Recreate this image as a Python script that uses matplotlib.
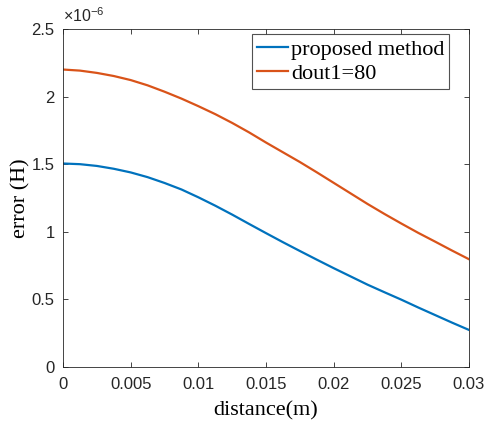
import matplotlib
matplotlib.use("Agg")
import matplotlib.pyplot as plt
from matplotlib.ticker import FuncFormatter

# distance (m) and error (H)
distance = [0.0, 0.00125, 0.0025, 0.00375, 0.005, 0.00625, 0.0075, 0.00875,
            0.01, 0.01125, 0.0125, 0.01375, 0.015, 0.01625, 0.0175, 0.01875,
            0.02, 0.02125, 0.0225, 0.02375, 0.025, 0.02625, 0.0275, 0.02875, 0.03]
err_proposed = [1.505e-6, 1.500e-6, 1.487e-6, 1.466e-6, 1.439e-6, 1.404e-6, 1.361e-6, 1.313e-6,
                1.255e-6, 1.193e-6, 1.127e-6, 1.058e-6, 0.990e-6, 0.923e-6, 0.858e-6, 0.794e-6,
                0.731e-6, 0.670e-6, 0.609e-6, 0.553e-6, 0.498e-6, 0.440e-6, 0.384e-6, 0.328e-6,
                0.274e-6]
err_dout1 = [2.200e-6, 2.192e-6, 2.175e-6, 2.152e-6, 2.122e-6, 2.083e-6, 2.036e-6, 1.985e-6,
             1.929e-6, 1.870e-6, 1.805e-6, 1.735e-6, 1.660e-6, 1.588e-6, 1.516e-6, 1.440e-6,
             1.362e-6, 1.284e-6, 1.206e-6, 1.132e-6, 1.061e-6, 0.992e-6, 0.927e-6, 0.861e-6,
             0.797e-6]

labels = ["proposed method", "dout1=80"]
colors = ["#0072BD", "#D95319"]

xticks = [0, 0.005, 0.01, 0.015, 0.02, 0.025, 0.03]
yticks = [0, 0.5e-6, 1e-6, 1.5e-6, 2e-6, 2.5e-6]

tick_font = "Liberation Sans"
label_font = "Liberation Serif"

plt.rcParams["mathtext.fontset"] = "custom"
plt.rcParams["mathtext.rm"] = tick_font
plt.rcParams["mathtext.it"] = tick_font

fig = plt.figure(figsize=(4.85, 4.26), dpi=100)
ax = fig.add_axes([0.130, 0.1385, 0.837, 0.7935])

ax.plot(distance, err_proposed, color=colors[0], lw=1.6, label=labels[0])
ax.plot(distance, err_dout1, color=colors[1], lw=1.6, label=labels[1])

ax.set_xlim(0, 0.03)
ax.set_ylim(0, 2.5e-6)
ax.set_xticks(xticks)
ax.set_yticks(yticks)
ax.xaxis.set_major_formatter(FuncFormatter(lambda v, p: "%g" % v))
ax.yaxis.set_major_formatter(FuncFormatter(lambda v, p: "%g" % round(v * 1e6, 3)))

ax.tick_params(direction="in", length=3.5, width=0.6, colors="#262626",
               top=True, right=True, labelsize=12, pad=6)
ax.tick_params(axis="x", pad=7)
for lab in ax.get_xticklabels() + ax.get_yticklabels():
    lab.set_family(tick_font)
for sp in ax.spines.values():
    sp.set_color("#262626")
    sp.set_linewidth(0.6)

ax.text(0.0, 1.012, r"$\times10^{-6}$", transform=ax.transAxes, fontsize=11.5,
        color="#262626", family=tick_font, ha="left", va="bottom")

ax.set_xlabel("distance(m)", family=label_font, fontsize=16, labelpad=7)
ax.set_ylabel("error (H)", family=label_font, fontsize=16, labelpad=1)

leg = ax.legend(loc="upper right", bbox_to_anchor=(0.9515, 0.984), borderaxespad=0,
                prop={"family": label_font, "size": 16}, frameon=True, fancybox=False,
                edgecolor="#262626", handlelength=1.42, handletextpad=0.12,
                labelspacing=0.17, borderpad=0.22)
leg.get_frame().set_linewidth(0.8)

fig.savefig("out.png", dpi=100)
